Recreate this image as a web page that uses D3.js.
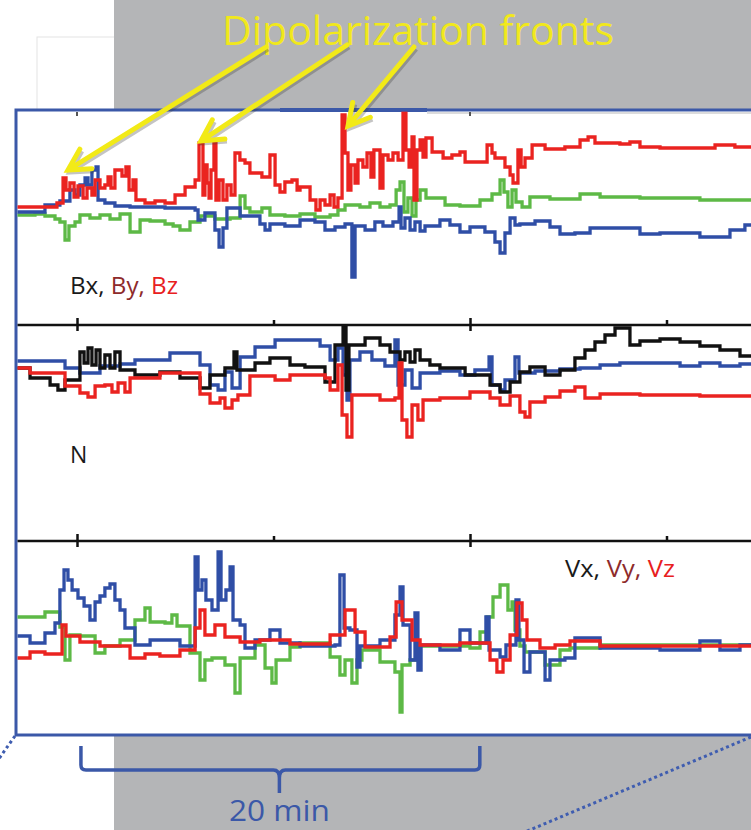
<!DOCTYPE html>
<html>
<head>
<meta charset="utf-8">
<script src="https://cdn.jsdelivr.net/npm/d3@7"></script>
<style>
  body{margin:0;background:#fff;}
  svg{display:block;}
</style>
</head>
<body>
<script>
//readings: [time in minutes, value]; time 0 = first major tick

//top panel, magnetic field
var bxBlue = [[-3.05,5.5],[-1.63,9],[-0.87,11],[-0.36,16.5],[-0.1,14],[0.15,19],[0.41,22.5],[0.56,19],[0.76,26.5],[0.97,28],[1.07,11.5],[1.42,10],[1.93,8.5],[2.7,8],[4.48,7.5],[6.01,6.5],[6.16,1.5],[6.51,5],[7.02,-3.5],[7.23,-12],[7.43,-2.5],[7.63,7.5],[8.3,3.5],[9.31,-0.5],[9.57,-3.5],[9.82,-0.5],[10.58,-1.5],[11.35,1.5],[12.11,0.5],[12.62,-3.5],[13.13,-2],[13.64,-0.5],[13.99,-27],[14.15,-1.5],[14.66,-3.5],[15.16,0.5],[15.57,-1.5],[16.08,0.5],[16.39,8],[16.49,-2.5],[16.69,2.5],[16.95,-3.5],[17.2,0.5],[17.46,-4],[17.71,-1.5],[18.47,1.5],[18.98,-1],[19.49,-4.5],[20,-2],[20.76,-4.5],[21.27,-9.5],[21.53,-15],[21.78,-5],[22.04,2.5],[22.29,-1],[22.54,-0.5],[23.31,1],[24.07,-2],[24.58,-5.5],[25.34,-5],[26.11,-2.5],[28.65,-5.5],[29.67,-5],[31.7,-7],[33.23,-3.5],[33.99,-1],[35,-1]];
var byGreen = [[-3.05,4],[-2.14,4.5],[-1.63,3.5],[-1.12,2],[-0.87,0.5],[-0.61,-8.5],[-0.41,-1.5],[-0.1,0.5],[0.15,4],[0.66,2.5],[1.17,4],[1.68,2],[2.19,4.5],[2.7,-4.5],[3.21,1.5],[3.72,1],[4.48,-0.5],[4.89,-1.5],[5.24,-3.5],[5.75,0.5],[6.26,3.5],[7.02,2],[7.79,2.5],[8.3,13.5],[8.55,7.5],[8.8,5.5],[9.41,7.5],[9.82,4],[10.58,3.5],[11.35,4.5],[12.11,3],[12.88,4],[13.28,6.5],[13.64,9],[14.4,8],[14.91,10],[15.42,8],[15.93,9],[16.24,16.5],[16.44,20.5],[16.64,5.5],[16.84,12.5],[17.05,3.5],[17.25,11.5],[17.46,16.5],[17.76,12.5],[18.73,9],[19.49,8.5],[20.51,11.5],[21.12,14.5],[21.53,21.5],[21.73,15.5],[21.93,8],[22.14,16.5],[22.34,10.5],[22.65,8],[23.05,13],[24.07,12],[25.6,14.5],[26.62,13],[28.65,12.5],[31.7,11.5],[35,11.5]];
var bzRed = [[-3.05,8],[-1.02,10],[-0.71,22.5],[-0.56,16.5],[-0.36,20],[-0.15,13],[0.05,18.5],[0.31,12.5],[0.51,17.5],[0.76,14],[0.92,21.5],[1.17,17.5],[1.42,19],[1.58,23],[1.73,17.5],[1.93,26.5],[2.29,23.5],[2.49,28],[2.65,16.5],[2.85,21.5],[3.0,11.5],[3.46,10],[3.97,11],[4.48,10],[4.99,14],[5.5,18],[6.01,21.5],[6.21,40],[6.41,14],[6.51,29],[6.62,20],[6.72,12.5],[6.82,26.5],[6.97,40],[7.07,11.5],[7.23,21.5],[7.43,11.5],[7.63,19],[7.84,14],[8.04,35],[8.29,31.5],[8.55,30],[8.8,25],[9.41,23],[9.82,34],[10.08,19],[10.33,15.5],[10.58,20.5],[10.94,21.5],[11.2,16.5],[11.35,18],[11.86,11.5],[12.16,6.5],[12.37,11.5],[12.62,9],[12.88,14],[13.08,8],[13.28,12.5],[13.49,54],[13.64,35],[13.79,16.5],[13.94,29],[14.15,20],[14.3,31.5],[14.55,28],[14.76,35],[14.96,23],[15.11,36.5],[15.42,17.5],[15.57,34],[15.83,31.5],[16.08,35],[16.34,31.5],[16.59,55],[16.74,36.5],[16.9,28],[17.05,43],[17.15,11.5],[17.3,36.5],[17.46,41.5],[17.61,33],[17.76,42.5],[18.07,35.5],[18.63,32.5],[19.08,34],[19.49,35.5],[19.75,30.5],[20.87,39],[21.12,35],[21.27,32.5],[21.78,28],[22.04,24],[22.19,20],[22.44,36.5],[22.6,28],[22.8,32.5],[23.16,39],[23.82,37],[24.83,38],[25.6,41.5],[26.01,43],[26.36,40],[27.63,39.5],[28.14,40.5],[28.65,38],[29.67,37.5],[32.47,39],[33.48,38],[35,38]];

//middle panel, N
var nBlue = [[-3.05,31],[-0.61,27.5],[0.15,25],[1.17,28.5],[2.19,29.5],[2.95,31.5],[4.73,35],[6.26,29],[6.77,19],[7.18,16.5],[7.53,25.5],[7.89,17.5],[8.3,33],[9.06,38],[10.08,41.5],[11.35,41.5],[12.37,38.5],[12.88,31.5],[13.28,37.5],[13.54,24],[13.74,11.5],[13.89,31.5],[14.4,35.5],[15.01,31.5],[15.67,28.5],[16.18,41.5],[16.34,19],[16.69,26.5],[17.05,17.5],[17.46,25],[18.47,26],[19.49,24],[20.25,26.5],[20.97,33],[21.12,19],[21.53,16.5],[21.78,21.5],[22.29,33],[22.49,25],[23.31,26],[24.58,27],[25.6,27.5],[26.62,29],[27.63,30],[30.69,28.5],[31.7,30],[32.72,28.5],[33.74,29.5],[35,29.5]];
var nBlack = [[-3.05,27.5],[-2.39,22.5],[-1.37,19],[-0.97,16.5],[-0.61,21.5],[0.15,35.5],[0.36,30],[0.56,37.5],[0.76,29],[0.97,36.5],[1.17,27.5],[1.42,34],[1.68,27.5],[1.93,35.5],[2.19,26.5],[2.95,24],[4.22,25.5],[5.24,22.5],[6.26,17.5],[6.77,24],[7.53,27.5],[7.99,35.5],[8.14,26.5],[9.06,30],[9.82,32.5],[10.84,29],[11.6,28],[12.62,20.5],[13.13,39],[13.54,48],[13.69,16.5],[13.84,39],[14.66,42.5],[15.42,39],[15.93,35.5],[16.44,31.5],[16.69,35.5],[16.95,30.5],[17.2,36.5],[17.46,31.5],[17.96,29],[18.47,27.5],[19.75,24],[21.02,19],[21.53,15.5],[22.04,20.5],[22.54,25.5],[23.05,28],[23.82,24],[24.58,26.5],[25.34,32.5],[25.85,36.5],[26.36,40.5],[26.87,44],[27.38,47.5],[28.14,39],[28.65,41],[29.67,42],[30.69,40.5],[31.7,38.5],[32.72,36.5],[33.74,33.5],[35,33.5]];
var nRed = [[-3.05,27.5],[-2.39,25],[-0.61,18.5],[0.15,15],[0.56,13],[0.92,18.5],[1.42,19],[1.78,15.5],[2.09,20],[2.44,15.5],[2.7,22.5],[4.22,25],[6.26,14.5],[6.77,10],[7.28,12.5],[7.53,7.5],[7.89,11.5],[8.19,14],[8.8,23.5],[10.08,21.5],[10.84,24],[12.62,22.5],[12.88,16.5],[13.28,29],[13.49,4],[13.74,-7],[13.99,14],[14.91,14],[15.42,11.5],[16.18,12.5],[16.39,30],[16.54,1.5],[16.79,-7],[17.05,9],[17.35,1.5],[17.61,11.5],[18.47,12.5],[20,15.5],[21.02,12.5],[21.53,9],[22.04,13.5],[22.54,5.5],[22.8,3],[23.05,10.5],[23.82,13],[24.58,16],[25.34,18],[25.85,12.5],[26.62,14.5],[28.65,14],[31.7,13.5],[35,13.5]];

//bottom panel, velocity
var vxBlue = [[-3.05,4.5],[-2.39,1],[-1.63,6],[-1.12,11],[-0.87,27.5],[-0.66,37.5],[-0.46,32.5],[-0.25,27.5],[0.05,23.5],[0.36,19.5],[0.66,12.5],[0.92,21.5],[1.17,24.5],[1.42,28.5],[1.68,30.5],[1.93,22.5],[2.19,17.5],[2.44,8.5],[2.95,0],[3.72,2.5],[5.24,-0.5],[6.01,44],[6.16,27.5],[6.36,32.5],[6.56,22.5],[6.87,17.5],[7.18,46.5],[7.33,22.5],[7.58,27.5],[7.79,39],[7.94,12.5],[8.3,10],[8.55,-1.5],[9.06,2.5],[9.82,7.5],[10.33,1],[11.35,-0.5],[13.13,0],[13.38,35],[13.59,8.5],[13.89,7.5],[14.25,-11],[14.4,-0.5],[15.42,2.5],[16.18,15],[16.44,29],[16.59,10],[16.95,-7.5],[17.2,16],[17.35,-12.5],[17.51,0],[18.47,-2.5],[19.49,7.5],[20,1],[20.81,14],[20.97,-2.5],[21.53,-6],[21.83,0],[22.34,22.5],[22.49,2.5],[22.75,-13.5],[23.05,-3.5],[23.82,-17.5],[24.07,-7.5],[24.83,-6.5],[25.34,3.5],[26.62,-1.5],[29.67,-2.5],[31.7,2],[32.72,-2.5],[33.74,0],[35,0]];
var vyGreen = [[-3.05,14],[-1.63,16.5],[-0.87,9],[-0.61,-7.5],[-0.36,5],[0.15,4.5],[0.92,-4],[1.42,-0.5],[2.19,2.5],[2.95,12.5],[3.46,18.5],[3.72,11.5],[4.48,11],[4.83,15],[5.09,9.5],[5.75,-4],[6.26,-17.5],[6.51,-7.5],[6.87,-6.5],[7.53,-10],[8.04,-24],[8.3,-6.5],[9.06,0],[9.57,-11.5],[9.92,-19],[10.13,-7.5],[10.84,-1],[11.35,1],[12.88,-6],[13.38,-15],[13.64,-7.5],[13.99,-19],[14.25,-7.5],[14.5,-2.5],[15.42,-8.5],[16.18,-13.5],[16.44,-33.5],[16.54,-10],[16.95,-7.5],[17.46,-0.5],[20,-1.5],[20.51,6.5],[20.87,14],[21.17,24],[21.53,30],[21.93,17.5],[22.14,21.5],[22.29,7.5],[22.54,-0.5],[22.8,-3.5],[23.82,-10],[24.58,-2.5],[25.09,-1.5],[26.62,0],[31.7,0],[35,0]];
var vzRed = [[-3.05,-6.5],[-2.39,-3.5],[-1.63,-4.5],[-0.76,10],[-0.56,4.5],[0.15,1.5],[1.17,-0.5],[2.7,-6.5],[3.46,-4.5],[4.22,-5.5],[5.24,-2.5],[6.01,8.5],[6.26,17.5],[6.51,5],[7.02,10],[7.53,4],[8.3,1.5],[9.31,2.5],[10.84,0.5],[12.88,5],[13.64,17.5],[14.15,6.5],[14.66,-1],[15.93,4],[16.24,21.5],[16.54,12.5],[17.05,2.5],[17.46,0],[19.49,1],[21.02,-7.5],[21.37,-13.5],[21.68,-7.5],[22.04,5],[22.39,21],[22.65,12.5],[22.9,2.5],[23.56,-1.5],[24.33,0],[25.09,2],[26.62,-0.5],[35,-0.5]];

var majorTicks = [0, 20],
    minorTicks = [10, 30];

var width = 751,
    height = 830;

var svg = d3.select("body")
    .append("svg")
    .attr("width", width)
    .attr("height", height);

//time scale: 10 min between ticks
var x = d3.scaleLinear()
    .domain([0, 20])
    .range([77, 470]);

//slide backdrop
svg.append("rect")
    .attr("x", 37).attr("y", 37).attr("width", 400).attr("height", 100)
    .attr("fill", "#fff").attr("stroke", "#e4e4e4");
svg.append("rect")
    .attr("x", 114).attr("y", 0).attr("width", width - 114).attr("height", height)
    .attr("fill", "#b4b5b7");

//dotted zoom lines
svg.append("path")
    .attr("d", "M15,736 L-2,760 M751,737 L525,832")
    .attr("fill", "none")
    .attr("stroke", "#3f5db0")
    .attr("stroke-width", 3)
    .attr("stroke-dasharray", "3,3");

//plot frame
svg.append("rect")
    .attr("x", 16).attr("y", 110).attr("width", 760).attr("height", 625)
    .attr("fill", "#fff")
    .attr("stroke", "#3b58a8")
    .attr("stroke-width", 3);
svg.append("line")
    .attr("x1", 280).attr("x2", 427).attr("y1", 110).attr("y2", 110)
    .attr("stroke", "#3b58a8").attr("stroke-width", 4);
svg.append("line")
    .attr("x1", 427).attr("x2", width).attr("y1", 113).attr("y2", 113)
    .attr("stroke", "#d0d0d0").attr("stroke-width", 1.5);

svg.append("clipPath")
    .attr("id", "plotClip")
    .append("rect")
    .attr("x", 17.5).attr("y", 111.5).attr("width", 760).attr("height", 622);

var panels = [
  {zero: 223, axisY: 113, series: [[byGreen, "#5db946"], [bxBlue, "#2f4ea6"], [bzRed, "#ea2320"]]},
  {zero: 423, axisY: 325, series: [[nBlue, "#2f4ea6"], [nBlack, "#111"], [nRed, "#ea2320"]]},
  {zero: 645, axisY: 541, series: [[vyGreen, "#5db946"], [vxBlue, "#2f4ea6"], [vzRed, "#ea2320"]]}
];

var plot = svg.append("g").attr("clip-path", "url(#plotClip)");

panels.forEach(function(p, i){
  //2 px per unit
  var y = d3.scaleLinear()
      .domain([0, 50])
      .range([p.zero, p.zero - 100]);

  var line = d3.line()
      .x(function(d){ return x(d[0]); })
      .y(function(d){ return y(d[1]); })
      .curve(d3.curveStepAfter);

  plot.selectAll(".trace" + i)
      .data(p.series)
      .enter()
      .append("path")
      .attr("class", "trace" + i)
      .attr("d", function(d){ return line(d[0]); })
      .attr("fill", "none")
      .attr("stroke", function(d){ return d[1]; })
      .attr("stroke-width", 3.3);

  //time axis between panels
  if (i > 0) {
    var axis = plot.append("g")
        .attr("transform", "translate(0," + p.axisY + ")")
        .call(d3.axisTop(x).tickValues(majorTicks.concat(minorTicks)).tickSizeOuter(0).tickFormat(""));
    axis.select(".domain")
        .attr("d", "M17,0H" + (width + 10))
        .attr("stroke", "#111").attr("stroke-width", 2.5);
    axis.selectAll(".tick line")
        .attr("stroke", "#111")
        .attr("stroke-width", 2.5)
        .attr("y1", function(d){ return majorTicks.indexOf(d) >= 0 ? 6 : 0; })
        .attr("y2", function(d){ return majorTicks.indexOf(d) >= 0 ? -7 : -5; });
  } else {
    plot.selectAll(".topTick")
        .data(majorTicks)
        .enter()
        .append("line")
        .attr("class", "topTick")
        .attr("x1", function(d){ return x(d); })
        .attr("x2", function(d){ return x(d); })
        .attr("y1", 112).attr("y2", 116)
        .attr("stroke", "#555").attr("stroke-width", 2);
  }
});

//panel labels
var labelFont = "'Open Sans', sans-serif";
var bLabel = svg.append("text")
    .attr("x", 70).attr("y", 294)
    .attr("font-family", labelFont).attr("font-size", 23)
    .attr("textLength", 108).attr("lengthAdjust", "spacingAndGlyphs");
bLabel.append("tspan").attr("fill", "#1a1a1a").text("Bx, ");
bLabel.append("tspan").attr("fill", "#8e2b2b").text("By, ");
bLabel.append("tspan").attr("fill", "#e8201e").text("Bz");

svg.append("text")
    .attr("x", 70).attr("y", 463)
    .attr("font-family", labelFont).attr("font-size", 23)
    .attr("fill", "#1a1a1a")
    .text("N");

var vLabel = svg.append("text")
    .attr("x", 565).attr("y", 577)
    .attr("font-family", labelFont).attr("font-size", 24)
    .attr("textLength", 110).attr("lengthAdjust", "spacingAndGlyphs");
vLabel.append("tspan").attr("fill", "#1a1a1a").text("Vx, ");
vLabel.append("tspan").attr("fill", "#8e2b2b").text("Vy, ");
vLabel.append("tspan").attr("fill", "#e8201e").text("Vz");

//20 min brace
var bl = x(0.2), bm = x(10.3), br = x(20.5);
svg.append("path")
    .attr("d", "M" + bl + ",746 V765 Q" + bl + ",770 " + (bl + 5) + ",770 H" + (bm - 6) +
               " Q" + bm + ",770 " + bm + ",778 V793 M" + bm + ",778 Q" + bm + ",770 " + (bm + 6) +
               ",770 H" + (br - 5) + " Q" + br + ",770 " + br + ",765 V746")
    .attr("fill", "none")
    .attr("stroke", "#3b58a8")
    .attr("stroke-width", 3.5);

svg.append("text")
    .attr("x", bm).attr("y", 821)
    .attr("text-anchor", "middle")
    .attr("font-family", labelFont).attr("font-size", 29)
    .attr("textLength", 101).attr("lengthAdjust", "spacingAndGlyphs")
    .attr("fill", "#3b58a8")
    .text("20 min");

//title and arrows
svg.append("text")
    .attr("x", 222).attr("y", 45)
    .attr("font-family", labelFont).attr("font-size", 41)
    .attr("textLength", 392).attr("lengthAdjust", "spacingAndGlyphs")
    .attr("fill", "#f1e81c")
    .text("Dipolarization fronts");

var arrows = [[266, 47, 68, 170], [347, 45, 201, 141], [414, 47, 348, 126]];

function arrowPath(a){
  var ang = Math.atan2(a[3] - a[1], a[2] - a[0]),
      len = 24, spread = 0.5;
  return "M" + a[0] + "," + a[1] + " L" + a[2] + "," + a[3] +
         " M" + (a[2] - len * Math.cos(ang - spread)) + "," + (a[3] - len * Math.sin(ang - spread)) +
         " L" + a[2] + "," + a[3] +
         " L" + (a[2] - len * Math.cos(ang + spread)) + "," + (a[3] - len * Math.sin(ang + spread));
}

svg.selectAll(".arrowShadow")
    .data(arrows)
    .enter()
    .append("path")
    .attr("class", "arrowShadow")
    .attr("d", arrowPath)
    .attr("transform", "translate(2,2)")
    .attr("fill", "none")
    .attr("stroke", "rgba(60,60,60,0.3)")
    .attr("stroke-width", 5);

svg.selectAll(".arrow")
    .data(arrows)
    .enter()
    .append("path")
    .attr("class", "arrow")
    .attr("d", arrowPath)
    .attr("fill", "none")
    .attr("stroke", "#f2ea17")
    .attr("stroke-width", 5)
    .attr("stroke-linecap", "round");
</script>
</body>
</html>
